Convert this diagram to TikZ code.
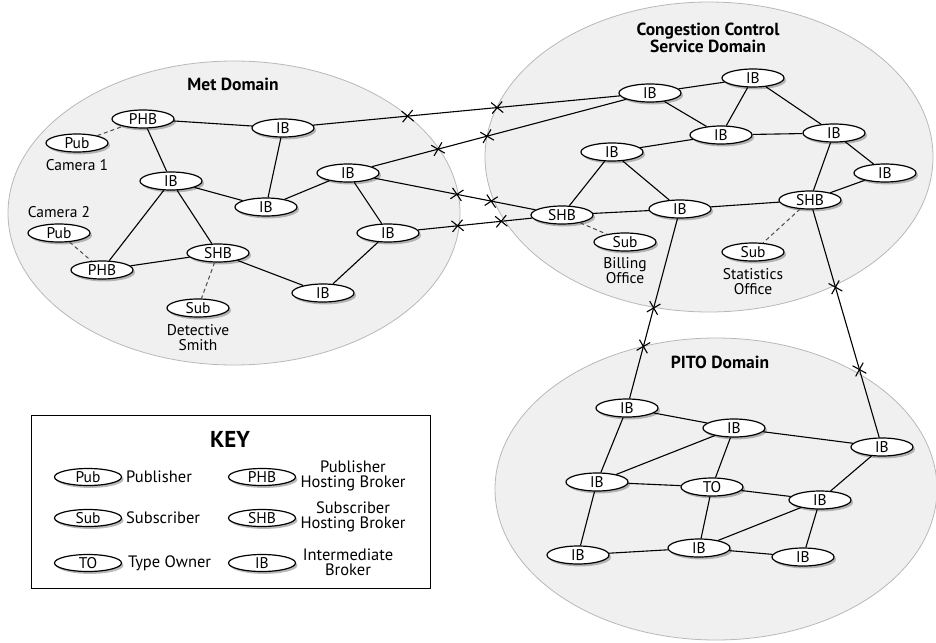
\documentclass[tikz,border=0pt]{standalone}
\usepackage{fontspec}
\setmainfont{PT Sans}
\usetikzlibrary{shapes.geometric,shapes.misc,shadows}

\definecolor{domainfill}{gray}{0.94}
\definecolor{domainline}{gray}{0.72}

\begin{document}
\begin{tikzpicture}[x=1pt, y=-1pt,
  font=\fontsize{15.5}{15}\selectfont,
  domainarea/.style={fill=domainfill, draw=domainline, line width=0.8pt},
  domaintitle/.style={font=\fontsize{17.5}{14.5}\selectfont\bfseries, align=center},
  broker/.style={ellipse, draw, fill=white, line width=1.2pt, minimum width=62pt, minimum height=18pt, inner sep=0pt,
    drop shadow={shadow xshift=2pt, shadow yshift=-2.4pt, opacity=0.55}},
  keybroker/.style={broker, minimum width=67pt, minimum height=17pt},
  link/.style={line width=1.1pt},
  hosted/.style={line width=1pt, black!70, dash pattern=on 4pt off 3pt},
  xmark/.style={cross out, draw, line width=1.1pt, minimum size=10pt, inner sep=0pt, sloped},
  caption/.style={align=center},
  keytext/.style={font=\fontsize{16.5}{15}\selectfont, inner sep=0pt},
  keycaption/.style={keytext, align=center}]

\useasboundingbox (0,0) rectangle (936,642);

% domains
\draw[domainarea] (234,213) ellipse [x radius=226, y radius=152];
\draw[domainarea] (709,157) ellipse [x radius=224, y radius=155];
\draw[domainarea] (716,489) ellipse [x radius=221, y radius=151];

\node[domaintitle] (met-title) at (233,84) {Met Domain};
\node[domaintitle] (cc-title) at (708,38) {Congestion Control\\Service Domain};
\node[domaintitle] (pito-title) at (720,362) {PITO Domain};

% Met Domain
\node[broker] (met-phb1) at (143,119) {PHB};
\node[broker] (met-pub1) at (77,143) {Pub};
\node[caption] (met-cam1) at (77,165) {Camera 1};
\node[broker] (met-ib1) at (283,128) {IB};
\node[broker] (met-ib2) at (171,181) {IB};
\node[broker] (met-ib3) at (266,207) {IB};
\node[broker] (met-ib4) at (348,173) {IB};
\node[broker] (met-ib5) at (388,233) {IB};
\node[caption] (met-cam2) at (59,212) {Camera 2};
\node[broker] (met-pub2) at (59,233) {Pub};
\node[broker] (met-phb2) at (102,270) {PHB};
\node[broker] (met-shb) at (218,253) {SHB};
\node[broker] (met-sub) at (198,308) {Sub};
\node[caption] (met-smith) at (198,338) {Detective\\Smith};
\node[broker] (met-ib6) at (323,293) {IB};

% Congestion Control Service Domain
\node[broker] (cc-ib1) at (650,93) {IB};
\node[broker] (cc-ib2) at (753,78) {IB};
\node[broker] (cc-ib3) at (721,135) {IB};
\node[broker] (cc-ib4) at (834,133) {IB};
\node[broker] (cc-ib5) at (612,152) {IB};
\node[broker] (cc-ib6) at (885,173) {IB};
\node[broker] (cc-shb1) at (562,215) {SHB};
\node[broker] (cc-ib7) at (680,209) {IB};
\node[broker] (cc-shb2) at (810,200) {SHB};
\node[broker] (cc-sub1) at (625,242) {Sub};
\node[caption] (cc-billing) at (625,271) {Billing\\Office};
\node[broker] (cc-sub2) at (753,252) {Sub};
\node[caption] (cc-stats) at (753,282) {Statistics\\Office};

% PITO Domain
\node[broker] (pito-ib1) at (627,408) {IB};
\node[broker] (pito-ib2) at (734,428) {IB};
\node[broker] (pito-ib3) at (882,447) {IB};
\node[broker] (pito-ib4) at (597,482) {IB};
\node[broker] (pito-to) at (712,487) {TO};
\node[broker] (pito-ib5) at (820,500) {IB};
\node[broker] (pito-ib6) at (578,555) {IB};
\node[broker] (pito-ib7) at (699,548) {IB};
\node[broker] (pito-ib8) at (803,557) {IB};

% links inside Met Domain
\draw[hosted] (met-pub1) -- (met-phb1);
\draw[hosted] (met-pub2) -- (met-phb2);
\draw[hosted] (met-shb) -- (met-sub);
\draw[link] (met-phb1) -- (met-ib1);
\draw[link] (met-phb1) -- (met-ib2);
\draw[link] (met-ib1) -- (met-ib3);
\draw[link] (met-ib2) -- (met-ib3);
\draw[link] (met-ib3) -- (met-ib4);
\draw[link] (met-ib4) -- (met-ib5);
\draw[link] (met-ib2) -- (met-phb2);
\draw[link] (met-ib2) -- (met-shb);
\draw[link] (met-phb2) -- (met-shb);
\draw[link] (met-shb) -- (met-ib6);
\draw[link] (met-ib6) -- (met-ib5);

% links inside Congestion Control Service Domain
\draw[hosted] (cc-shb1) -- (cc-sub1);
\draw[hosted] (cc-shb2) -- (cc-sub2);
\draw[link] (cc-ib1) -- (cc-ib2);
\draw[link] (cc-ib1) -- (cc-ib3);
\draw[link] (cc-ib2) -- (cc-ib3);
\draw[link] (cc-ib2) -- (cc-ib4);
\draw[link] (cc-ib3) -- (cc-ib4);
\draw[link] (cc-ib3) -- (cc-ib5);
\draw[link] (cc-ib5) -- (cc-shb1);
\draw[link] (cc-ib5) -- (cc-ib7);
\draw[link] (cc-shb1) -- (cc-ib7);
\draw[link] (cc-ib7) -- (cc-shb2);
\draw[link] (cc-ib4) -- (cc-shb2);
\draw[link] (cc-ib4) -- (cc-ib6);
\draw[link] (cc-shb2) -- (cc-ib6);

% links inside PITO Domain
\draw[link] (pito-ib1) -- (pito-ib2);
\draw[link] (pito-ib1) -- (pito-ib4);
\draw[link] (pito-ib2) -- (pito-ib3);
\draw[link] (pito-ib2) -- (pito-ib4);
\draw[link] (pito-ib2) -- (pito-to);
\draw[link] (pito-ib4) -- (pito-to);
\draw[link] (pito-to) -- (pito-ib5);
\draw[link] (pito-ib3) -- (pito-ib5);
\draw[link] (pito-ib4) -- (pito-ib6);
\draw[link] (pito-to) -- (pito-ib7);
\draw[link] (pito-ib5) -- (pito-ib7);
\draw[link] (pito-ib5) -- (pito-ib8);
\draw[link] (pito-ib6) -- (pito-ib7);
\draw[link] (pito-ib7) -- (pito-ib8);

% links between domains, crossed at each boundary
\draw[link] (met-ib1) -- node[xmark, pos=0.308] {} node[xmark, pos=0.60] {} (cc-ib1);
\draw[link] (met-ib4) -- node[xmark, pos=0.26] {} node[xmark, pos=0.453] {} (cc-ib1);
\draw[link] (met-ib4) -- node[xmark, pos=0.512] {} node[xmark, pos=0.725] {} (cc-shb1);
\draw[link] (met-ib5) -- node[xmark, pos=0.347] {} node[xmark, pos=0.73] {} (cc-shb1);
\draw[link] (cc-ib7) -- node[xmark, pos=0.497] {} node[xmark, pos=0.711] {} (pito-ib1);
\draw[link] (cc-shb2) -- node[xmark, pos=0.341] {} node[xmark, pos=0.702] {} (pito-ib3);

% key
\draw[line width=1pt] (31,415) rectangle (430,588);
\node[font=\fontsize{23}{24}\selectfont\bfseries] (key-title) at (230,439) {KEY};
\node[keybroker] (key-pub) at (88,477) {Pub};
\node[keytext, anchor=west] (key-pub-text) at (126,477) {Publisher};
\node[keybroker] (key-sub) at (88,518) {Sub};
\node[keytext, anchor=west] (key-sub-text) at (126,518) {Subscriber};
\node[keybroker] (key-to) at (88,563) {TO};
\node[keytext, anchor=west] (key-to-text) at (128,563) {Type Owner};
\node[keybroker] (key-phb) at (262,477) {PHB};
\node[keycaption] (key-phb-text) at (353,476) {Publisher\\Hosting Broker};
\node[keybroker] (key-shb) at (262,518) {SHB};
\node[keycaption] (key-shb-text) at (353,517) {Subscriber\\Hosting Broker};
\node[keybroker] (key-ib) at (262,563) {IB};
\node[keycaption] (key-ib-text) at (348,562) {Intermediate\\Broker};
\end{tikzpicture}
\end{document}
